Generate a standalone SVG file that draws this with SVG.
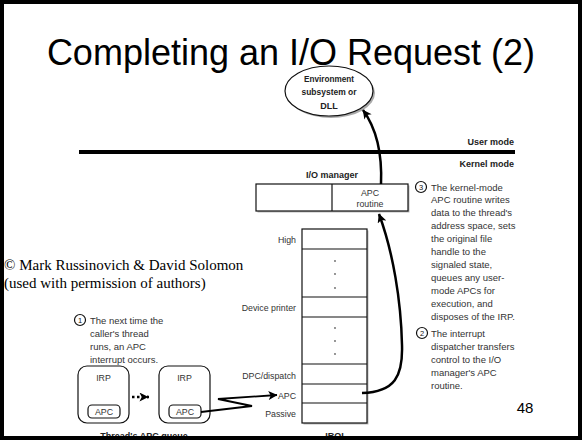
<svg xmlns="http://www.w3.org/2000/svg" width="582" height="444" viewBox="0 0 582 444">
<defs>
<style>
.t{font-family:"Liberation Sans",Arial,sans-serif;}
.lbl{font-family:"Liberation Sans",Arial,sans-serif;font-size:8.8px;fill:#333;}
.bl{font-family:"Liberation Sans",Arial,sans-serif;font-size:9px;font-weight:bold;fill:#222;}
.desc{font-family:"Liberation Sans",Arial,sans-serif;font-size:9.5px;fill:#333;}
.box{fill:#fff;stroke:#111;stroke-width:1.2;}
.conn{fill:none;stroke:#000;stroke-width:2.5;}
.dot{fill:#666;}
.circ{fill:#fff;stroke:#111;stroke-width:1.2;}
.cnum{font-family:"Liberation Sans",Arial,sans-serif;font-size:7.5px;fill:#111;text-anchor:middle;}
</style>
<marker id="ah" markerUnits="userSpaceOnUse" viewBox="0 0 10 10" refX="9.5" refY="5" markerWidth="11" markerHeight="9" orient="auto">
<path d="M0,0 L10,5 L0,10 L2.5,5 z" fill="#000"/>
</marker>
</defs>
<rect x="0" y="0" width="582" height="444" fill="#fff"/>

<text class="t" x="291" y="65" font-size="36" text-anchor="middle" fill="#000">Completing an I/O Request (2)</text>

<g id="env">
<ellipse cx="331" cy="93" rx="44" ry="25" fill="#aaa"/>
<ellipse cx="329" cy="91" rx="44" ry="25" fill="#fff" stroke="#111" stroke-width="1.2"/>
<text class="bl" text-anchor="middle" x="329" y="81.5" font-size="9.5" textLength="50" lengthAdjust="spacingAndGlyphs">Environment</text>
<text class="bl" text-anchor="middle" x="329" y="95" font-size="9.5" textLength="55" lengthAdjust="spacingAndGlyphs">subsystem or</text>
<text class="bl" text-anchor="middle" x="329" y="108.5" font-size="9.5">DLL</text>
</g>

<g id="modes">
<text class="bl" x="514" y="145" text-anchor="end">User mode</text>
<rect x="79" y="150" width="436" height="4" fill="#000"/>
<text class="bl" x="514" y="167" text-anchor="end">Kernel mode</text>
</g>

<g id="iomanager">
<text class="bl" x="332" y="178" text-anchor="middle">I/O manager</text>
<rect x="257.5" y="185.5" width="152" height="27" fill="#bbb"/>
<rect class="box" x="256" y="184" width="152" height="27"/>
<line x1="332" y1="184" x2="332" y2="211" stroke="#111" stroke-width="1.2"/>
<text class="lbl" x="370" y="196" text-anchor="middle">APC</text>
<text class="lbl" x="370" y="207" text-anchor="middle">routine</text>
</g>

<g id="irql">
<rect x="303.5" y="230.5" width="65" height="194" fill="#bbb"/>
<rect class="box" x="302" y="229" width="65" height="194"/>
<g stroke="#111" stroke-width="1.2">
<line x1="302" y1="249" x2="367" y2="249"/>
<line x1="302" y1="297" x2="367" y2="297"/>
<line x1="302" y1="317" x2="367" y2="317"/>
<line x1="302" y1="364" x2="367" y2="364"/>
<line x1="302" y1="384" x2="367" y2="384"/>
<line x1="302" y1="403" x2="367" y2="403"/>
</g>
<circle class="dot" cx="335" cy="261" r="0.9"/>
<circle class="dot" cx="335" cy="274" r="0.9"/>
<circle class="dot" cx="335" cy="288" r="0.9"/>
<circle class="dot" cx="335" cy="328" r="0.9"/>
<circle class="dot" cx="335" cy="341" r="0.9"/>
<circle class="dot" cx="335" cy="354" r="0.9"/>
<text class="lbl" x="296" y="243" text-anchor="end">High</text>
<text class="lbl" x="296" y="311" text-anchor="end">Device printer</text>
<text class="lbl" x="296" y="379" text-anchor="end">DPC/dispatch</text>
<text class="lbl" x="296" y="399" text-anchor="end">APC</text>
<text class="lbl" x="296" y="417" text-anchor="end">Passive</text>
<text class="bl" x="336" y="439" text-anchor="middle">IRQL</text>
</g>

<g id="irp1">
<rect class="box" x="78" y="366" width="51" height="57" rx="9" stroke-width="1.4"/>
<text class="lbl" x="103.5" y="381" text-anchor="middle">IRP</text>
<rect class="box" x="88" y="405" width="32" height="13" rx="4"/>
<text class="lbl" x="104" y="415" text-anchor="middle">APC</text>
</g>
<g id="irp2">
<rect class="box" x="159" y="366" width="51" height="57" rx="9" stroke-width="1.4"/>
<text class="lbl" x="184.5" y="381" text-anchor="middle">IRP</text>
<rect class="box" x="169" y="405" width="32" height="13" rx="4"/>
<text class="lbl" x="185" y="415" text-anchor="middle">APC</text>
</g>
<text class="bl" x="144" y="439" text-anchor="middle">Thread's APC queue</text>

<g id="connectors">
<path class="conn" d="M381,184 C382,160 379,132 363,110" marker-end="url(#ah)"/>
<path class="conn" d="M362,393 C395,392 403,376 402,345 C401,300 393,252 379,214" marker-end="url(#ah)"/>
<path d="M132,397 L149,397" fill="none" stroke="#000" stroke-width="2.5" stroke-dasharray="2.5,2.5"/>
<path d="M147,397 L148,397" class="conn" marker-end="url(#ah)" stroke-width="0.1"/>
<path d="M201,412 L252,406 L218,399 L277,395" fill="none" stroke="#000" stroke-width="1.8" stroke-linejoin="miter" marker-end="url(#ah)"/>
</g>

<g id="note1">
<circle class="circ" cx="80" cy="320" r="5.5"/>
<text class="cnum" x="80" y="322.7">1</text>
<text class="desc" x="90" y="323.5">The next time the</text>
<text class="desc" x="90" y="336.5">caller's thread</text>
<text class="desc" x="90" y="349.5">runs, an APC</text>
<text class="desc" x="90" y="362.5">interrupt occurs.</text>
</g>

<g id="note2">
<circle class="circ" cx="422" cy="333" r="5.5"/>
<text class="cnum" x="422" y="335.7">2</text>
<text class="desc" x="431" y="336.5">The interrupt</text>
<text class="desc" x="431" y="349.5">dispatcher transfers</text>
<text class="desc" x="431" y="362.5">control to the I/O</text>
<text class="desc" x="431" y="375.5">manager's APC</text>
<text class="desc" x="431" y="388.5">routine.</text>
</g>

<g id="note3">
<circle class="circ" cx="421" cy="187" r="5.5"/>
<text class="cnum" x="421" y="189.7">3</text>
<text class="desc" x="431" y="190.5">The kernel-mode</text>
<text class="desc" x="431" y="203.4">APC routine writes</text>
<text class="desc" x="431" y="216.3">data to the thread's</text>
<text class="desc" x="431" y="229.2">address space, sets</text>
<text class="desc" x="431" y="242.1">the original file</text>
<text class="desc" x="431" y="255">handle to the</text>
<text class="desc" x="431" y="267.9">signaled state,</text>
<text class="desc" x="431" y="280.8">queues any user-</text>
<text class="desc" x="431" y="293.7">mode APCs for</text>
<text class="desc" x="431" y="306.6">execution, and</text>
<text class="desc" x="431" y="319.5">disposes of the IRP.</text>
</g>

<text x="4" y="270" font-family="'Liberation Serif','Times New Roman',serif" font-size="15" fill="#000">© Mark Russinovich &amp; David Solomon</text>
<text x="4" y="288" font-family="'Liberation Serif','Times New Roman',serif" font-size="15" fill="#000">(used with permission of authors)</text>

<text class="t" x="525" y="413" font-size="15" text-anchor="middle" fill="#000">48</text>

<rect x="0" y="438" width="582" height="6" fill="#fff"/>
<rect x="2" y="2" width="578" height="436" fill="none" stroke="#000" stroke-width="4"/>
</svg>
